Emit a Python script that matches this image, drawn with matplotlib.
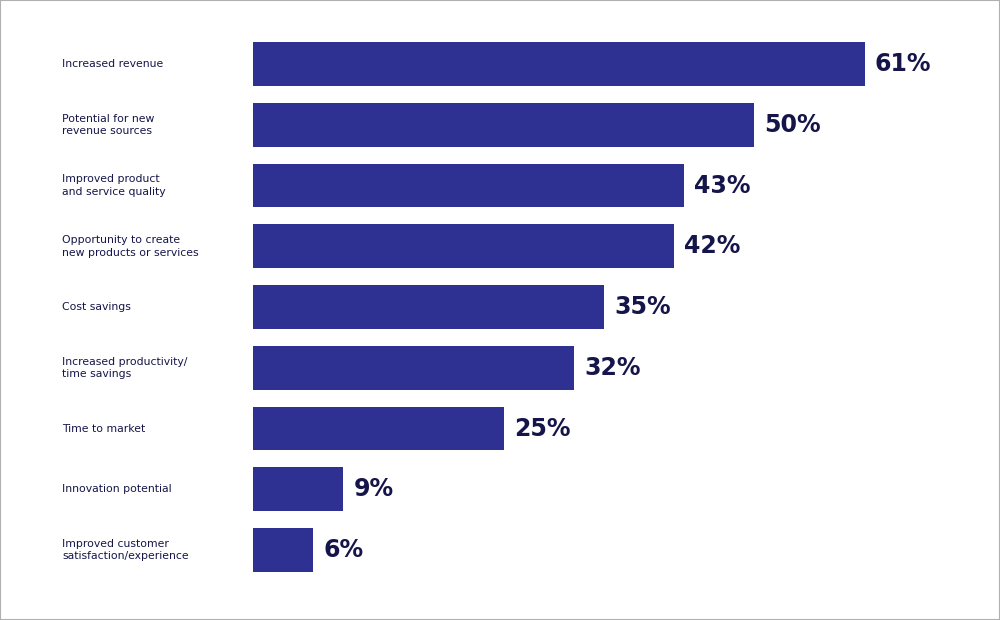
import matplotlib.pyplot as plt
from matplotlib.patches import Rectangle
from matplotlib.transforms import blended_transform_factory

categories = [
    "Increased revenue",
    "Potential for new\nrevenue sources",
    "Improved product\nand service quality",
    "Opportunity to create\nnew products or services",
    "Cost savings",
    "Increased productivity/\ntime savings",
    "Time to market",
    "Innovation potential",
    "Improved customer\nsatisfaction/experience",
]
values = [61, 50, 43, 42, 35, 32, 25, 9, 6]

BAR_COLOR = "#2e3192"
TEXT_COLOR = "#15154a"

fig = plt.figure(figsize=(10, 6.2), dpi=100)
fig.patches.append(Rectangle((0, 0), 1, 1, transform=fig.transFigure,
                             fill=False, edgecolor="#b0b0b0", linewidth=1.5))

ax = fig.add_axes([0.253, 0.0, 0.747, 1.0])
ax.set_xlim(0, 74.5)
ax.set_ylim(9.15, -1.054)
ax.axis("off")

ypos = list(range(len(values)))
ax.barh(ypos, values, height=0.72, color=BAR_COLOR)

for y, v in zip(ypos, values):
    ax.text(v + 1.0, y, f"{v}%", va="center", ha="left", fontsize=17,
            fontweight="bold", color=TEXT_COLOR)

label_tf = blended_transform_factory(fig.transFigure, ax.transData)
for y, name in zip(ypos, categories):
    ax.text(0.062, y, name, transform=label_tf, va="center", ha="left",
            fontsize=7.8, color=TEXT_COLOR, linespacing=1.3)

fig.savefig("out.png", dpi=100)
